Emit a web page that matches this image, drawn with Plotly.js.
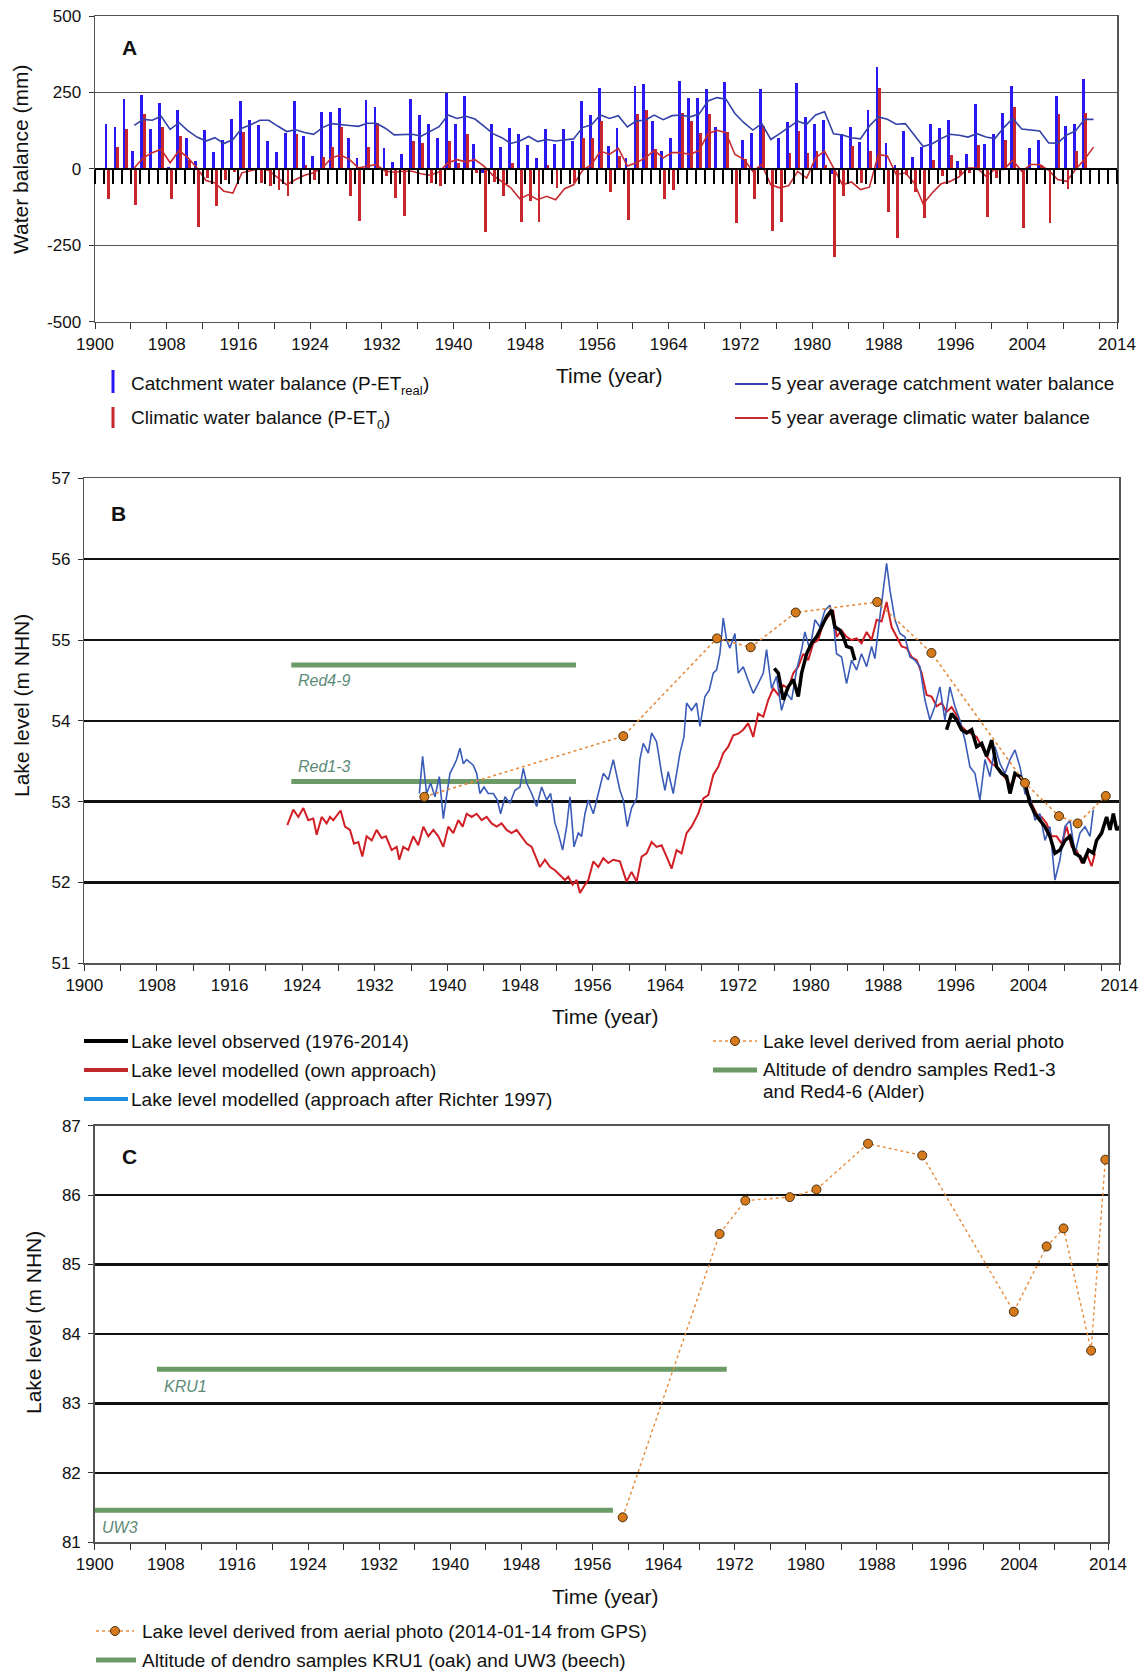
<!DOCTYPE html>
<html><head><meta charset="utf-8">
<script src="https://cdn.plot.ly/plotly-3.0.1.min.js"></script>
<style>html,body{margin:0;padding:0;background:#fff}#chart{width:1146px;height:1673px}</style>
</head><body><div id="chart"></div>
<script>
// ---------------- DATA ----------------
// Panel A: annual water balance (mm)
const balanceYears = [];
for (let y = 1901; y <= 2011; y++) balanceYears.push(y);
const catchmentBalance = [146,137,228,58,240,129,214,5,192,100,
 25,126,56,94,162,222,159,144,91,56,
 118,222,107,43,187,187,200,101,36,225,
 202,68,23,47,227,175,146,100,247,146,
 238,80,-12,146,71,135,115,78,36,130,
 80,130,91,222,176,266,76,133,36,271,
 279,155,58,100,286,233,233,262,137,284,
 0,96,118,260,0,102,153,282,170,148,
 161,-18,113,137,89,192,334,84,12,124,
 38,73,148,133,159,25,49,212,80,113,
 184,271,0,69,93,0,239,139,148,294,null];
const climaticBalance = [-98,71,132,-117,179,-5,137,-98,107,30,
 -189,-30,-122,-35,-10,121,-5,-45,-57,-70,
 -90,114,12,-38,40,70,137,-90,-171,72,
 150,-25,-95,-154,92,85,-45,-57,90,20,
 115,-15,-205,-43,-90,19,-174,-106,-174,11,
 -62,-5,-46,102,102,155,-77,41,-167,179,
 192,64,-99,-70,183,155,118,179,-5,122,
 -178,31,-98,140,-202,-174,53,124,53,60,
 12,-287,-90,76,-46,58,266,-141,-227,-19,
 -77,-161,30,-24,45,-19,-13,78,-156,-30,
 96,202,-194,-5,14,-178,178,-66,58,182,0];
const avgYears = [];
for (let y = 1904; y <= 2011; y++) avgYears.push(y);
const catchmentAvg5 = [142,162,159,172,129,151,124,104,91,102,
 83,96,133,144,159,159,140,122,128,119,
 113,135,148,146,142,139,149,149,133,111,
 113,113,107,122,138,176,165,172,163,140,
 115,102,83,91,106,89,96,91,95,98,
 135,144,176,165,174,137,157,159,176,161,
 174,176,170,179,222,233,228,181,151,127,
 148,96,115,135,156,146,176,187,115,111,
 102,98,140,170,162,146,148,111,73,82,
 99,113,110,104,115,104,99,135,165,130,
 128,124,85,84,111,124,162,162];
const climaticAvg5 = [3,36,53,64,20,60,36,3,-38,-46,
 -73,-79,-13,-5,1,-5,-30,-52,-35,-21,
 -13,3,36,45,31,3,9,14,-8,-11,
 -8,-8,-16,-21,-10,20,30,23,30,9,
 -21,-41,-62,-98,-84,-101,-90,-101,-65,-52,
 -5,14,58,47,67,9,20,36,60,36,
 53,53,47,60,115,126,118,47,31,-8,
 14,-52,-62,-55,-8,-30,36,58,3,-52,
 -43,-68,-60,47,42,-19,-13,-46,-115,-79,
 -49,-41,-26,3,3,-24,-2,-2,28,-8,
 14,14,-5,-35,-41,-2,31,71];
const balanceTicks = [-500, -250, 0, 250, 500];
const balanceTickText = ['-500', '-250', '0', '250', '500'];

// Panel B: lake level (m NHN) as [year, level]
const levelModelOwn = [[1922.36,52.71],[1923.02,52.90],[1923.57,52.81],[1924.12,52.92],[1924.67,52.77],[1925.22,52.79],[1925.59,52.59],[1926.14,52.81],[1926.69,52.73],[1927.06,52.81],[1927.42,52.77],[1927.79,52.83],[1928.23,52.89],[1928.71,52.69],[1929.26,52.65],[1929.7,52.48],[1930.18,52.50],[1930.62,52.32],[1931.09,52.57],[1931.65,52.52],[1932.2,52.65],[1932.75,52.55],[1933.22,52.57],[1933.85,52.40],[1934.4,52.44],[1934.69,52.28],[1935.13,52.44],[1935.68,52.40],[1936.23,52.57],[1936.78,52.46],[1937.34,52.69],[1937.89,52.57],[1938.44,52.65],[1938.99,52.57],[1939.54,52.44],[1940.09,52.69],[1940.64,52.61],[1941.19,52.77],[1941.67,52.69],[1942.11,52.85],[1942.66,52.81],[1943.21,52.85],[1943.76,52.77],[1944.31,52.81],[1944.86,52.73],[1945.41,52.69],[1945.96,52.73],[1946.51,52.65],[1947.06,52.61],[1947.61,52.65],[1948.17,52.57],[1948.72,52.48],[1949.27,52.44],[1949.74,52.32],[1950.18,52.19],[1950.73,52.28],[1951.29,52.19],[1951.84,52.15],[1952.39,52.09],[1952.94,52.03],[1953.3,52.07],[1953.78,51.97],[1954.22,52.03],[1954.59,51.87],[1955.14,51.97],[1955.51,52.03],[1956.06,52.26],[1956.61,52.19],[1957.16,52.30],[1957.71,52.24],[1958.26,52.28],
 [1958.99,52.26],[1959.72,52.01],[1960.27,52.13],[1960.83,52.01],[1961.38,52.32],[1961.93,52.36],[1962.48,52.50],[1963.03,52.44],[1963.58,52.46],[1964.13,52.32],[1964.68,52.17],[1965.23,52.40],[1965.78,52.36],[1966.33,52.61],[1966.88,52.69],[1967.62,52.85],[1968.17,53.04],[1968.72,53.08],[1969.27,53.33],[1969.82,53.43],[1970.37,53.60],[1970.92,53.68],[1971.47,53.82],[1972.02,53.84],[1972.57,53.89],[1973.12,53.97],[1973.67,53.80],[1974.22,54.09],[1974.78,54.05],[1975.33,54.26],[1975.88,54.40],[1976.43,54.32],[1976.98,54.44],[1977.53,54.40],[1978.08,54.59],[1978.63,54.67],[1979.18,54.83],[1979.73,54.75],[1980.28,54.96],[1980.83,55.00],[1981.38,55.21],[1981.93,55.29],[1982.48,55.37],[1982.85,55.04],[1983.4,55.12],[1983.95,55.04],[1984.5,55.00],[1985.05,55.02],[1985.6,54.96],[1986.16,55.10],[1986.71,55.00],[1987.26,55.25],[1987.81,55.23],[1988.36,55.47],
 [1988.91,55.16],[1989.47,55.04],[1990.02,54.92],[1990.57,54.90],[1991.12,54.79],[1991.67,54.75],[1992.22,54.59],[1992.77,54.32],[1993.32,54.30],[1993.87,54.18],[1994.42,54.22],[1994.97,54.11],[1995.52,54.17],[1996.07,54.07],[1996.62,53.93],[1997.17,53.87],[1997.73,53.84],[1998.28,53.80],[1998.83,53.68],[1999.38,53.56],[1999.93,53.47],[2000.48,53.43],[2001.03,53.35],[2001.58,53.27],[2002.13,53.19],[2002.68,53.35],[2003.23,53.27],[2003.78,53.10],[2004.33,52.98],[2004.88,52.85],[2005.43,52.81],[2005.99,52.73],[2006.54,52.57],[2007.09,52.57],[2007.64,52.48],[2008.19,52.69],[2008.74,52.44],[2009.29,52.40],[2009.84,52.24],[2010.39,52.36],[2010.94,52.20],[2011.31,52.36]];
const levelModelRichter = [[1936.9,53.10],[1937.26,53.56],[1937.7,53.10],[1938.14,53.23],[1938.62,53.06],[1939.1,53.31],[1939.54,52.79],[1939.91,53.10],[1940.27,53.35],[1940.64,53.43],[1941.01,53.52],[1941.37,53.66],[1941.74,53.47],[1942.11,53.52],[1942.48,53.49],[1942.84,53.45],[1943.21,53.35],[1943.58,53.10],[1944.02,53.18],[1944.49,53.10],[1945.04,53.10],[1945.49,53.02],[1945.85,52.85],[1946.33,53.06],[1946.88,52.98],[1947.43,53.14],[1947.98,53.18],[1948.35,53.41],[1948.72,53.23],[1949.27,53.10],[1949.82,52.94],[1950.37,53.18],[1950.92,53.02],[1951.36,53.10],[1951.84,52.73],[1952.2,52.61],[1952.68,52.40],[1953.12,52.69],[1953.49,53.06],[1953.93,52.44],[1954.41,52.61],[1954.77,52.57],[1955.14,52.85],[1955.51,53.02],[1956.06,52.85],[1956.61,53.10],[1957.16,53.35],[1957.71,53.27],[1958.26,53.52],[1958.99,53.14],[1959.36,53.02],[1959.8,52.69],[1960.27,52.92],[1960.83,53.04],[1961.19,53.52],[1961.56,53.72],[1962.11,53.60],[1962.48,53.85],[1963.03,53.74],[1963.58,53.35],[1963.95,53.14],[1964.31,53.37],[1964.86,53.10],[1965.23,53.35],[1965.6,53.60],[1966.04,53.80],[1966.33,54.22],[1966.88,54.13],[1967.43,54.22],[1967.8,53.93],[1968.35,54.30],[1968.83,54.38],[1969.27,54.59],[1969.64,54.63],[1970.0,54.83],[1970.37,55.27],[1970.74,55.00],[1971.1,54.90],[1971.66,55.08],[1972.02,54.59],[1972.57,54.67],[1973.12,54.50],[1973.67,54.34],[1974.22,54.46],[1974.78,54.59],[1975.14,54.88],[1975.69,54.40],[1976.24,54.55],[1976.79,54.13],[1977.35,54.34],[1977.9,54.26],[1978.45,54.63],[1979.0,54.88],[1979.36,55.10],[1979.91,54.88],[1980.47,55.25],[1981.02,55.16],[1981.57,55.37],[1982.12,55.43],[1982.48,55.25],[1982.85,54.83],[1983.4,54.79],[1983.95,54.46],[1984.5,54.75],[1985.05,54.63],[1985.6,54.83],[1986.16,54.67],[1986.71,54.92],[1987.07,54.77],[1987.44,55.12],[1987.99,55.58],[1988.36,55.95],[1988.73,55.62],[1989.28,55.25],[1989.83,55.08],[1990.38,55.04],[1990.93,54.79],[1991.48,54.75],[1992.03,54.67],[1992.58,54.26],[1993.13,54.01],[1993.68,54.18],[1994.23,54.42],[1994.78,54.01],[1995.33,54.42],[1995.88,54.18],[1996.43,54.01],[1996.99,53.76],[1997.54,53.43],[1998.09,53.35],[1998.64,53.02],[1999.19,53.52],[1999.74,53.31],[2000.3,53.68],[2000.85,53.47],[2001.4,53.35],[2001.95,53.52],[2002.5,53.64],[2003.05,53.43],[2003.6,53.10],[2004.15,53.06],[2004.7,52.77],[2005.25,52.85],[2005.8,52.52],[2006.35,52.69],[2006.9,52.03],[2007.45,52.28],[2008.0,52.69],[2008.56,52.77],[2009.11,52.36],[2009.66,52.61],[2010.21,52.69],[2010.76,52.57],[2011.13,52.90]];
const levelObserved = [[1975.99,54.65],[1976.43,54.59],[1976.98,54.26],[1977.53,54.42],[1978.08,54.51],[1978.63,54.30],[1979.0,54.59],[1979.55,54.83],[1980.1,54.96],[1980.65,55.04],[1981.2,55.16],[1981.75,55.29],[1982.3,55.37],[1982.67,55.16],[1983.22,55.12],[1983.59,55.04],[1983.95,54.92],[1984.5,54.90],[1984.87,54.75],
 [1990.0,null],
 [1994.97,53.89],[1995.52,54.09],[1996.07,54.01],[1996.62,53.89],[1997.17,53.85],[1997.73,53.89],[1998.28,53.68],[1998.83,53.72],[1999.38,53.56],[1999.93,53.76],[2000.48,53.43],[2001.03,53.35],[2001.58,53.31],[2001.95,53.10],[2002.5,53.35],[2003.05,53.31],[2003.6,53.23],[2004.15,52.98],[2004.7,52.85],[2005.25,52.77],[2005.8,52.69],[2006.35,52.57],[2006.9,52.36],[2007.45,52.40],[2008.0,52.52],[2008.56,52.57],[2009.11,52.36],[2009.66,52.32],[2010.02,52.24],[2010.58,52.40],[2011.13,52.36],[2011.49,52.52],[2012.04,52.61],[2012.59,52.81],[2012.96,52.65],[2013.33,52.85],[2013.7,52.65],[2014.06,52.69]];
const aerialB = [[1937.45,53.06],[1959.36,53.81],[1969.68,55.02],[1973.4,54.91],[1978.35,55.34],[1987.33,55.47],[1993.3,54.84],[2003.6,53.23],[2007.35,52.82],[2009.4,52.73],[2012.5,53.07]];
const dendroB = [{name:'Red4-9', from:1922.8, to:1954.15, level:54.69},
                 {name:'Red1-3', from:1922.8, to:1954.15, level:53.25}];

// Panel C
const aerialC = [[1959.4,81.36],[1970.3,85.44],[1973.2,85.92],[1978.2,85.97],[1981.2,86.08],[1987.0,86.74],[1993.1,86.57],[2003.4,84.32],[2007.1,85.26],[2009.0,85.52],[2012.1,83.76],[2013.7,86.51]];
const dendroC = [{name:'KRU1', from:1907.0, to:1971.1, level:83.49},
                 {name:'UW3', from:1900.0, to:1958.3, level:81.46}];

// Axis ticks: labelled years and unlabelled 4-year ticks
const labelYears = [1900,1908,1916,1924,1932,1940,1948,1956,1964,1972,1980,1988,1996,2004,2014];
const minorYears = [1904,1912,1920,1928,1936,1944,1952,1960,1968,1976,1984,1992,2000,2008,2012];

// ---------------- STYLE / LAYOUT ----------------
const W = 1146, H = 1673;
const px = x => x / W, py = y => 1 - y / H;
const FONT = 'Liberation Sans, Arial, sans-serif';
const C_BLUEBAR = '#2a18f2', C_REDBAR = '#c9252c';
const C_BLUEAVG = '#3340a8', C_REDAVG = '#c62a2f';
const C_RED = '#d11f26', C_BLUE = '#3a5cb8', C_ORANGE = '#d67a1c', C_DOT = '#e58b3c';
const C_GREEN = '#6b9a66', C_GTEXT = '#5d8a78';

const traces = [];
// Panel A bars
traces.push({type:'bar', x: balanceYears.map(y => y + 0.23), y: catchmentBalance, width: 0.32,
  marker:{color:C_BLUEBAR}, xaxis:'x', yaxis:'y', name:'Catchment water balance', hoverinfo:'skip'});
traces.push({type:'bar', x: balanceYears.map(y => y + 0.53), y: climaticBalance, width: 0.32,
  marker:{color:C_REDBAR}, xaxis:'x', yaxis:'y', name:'Climatic water balance', hoverinfo:'skip'});
traces.push({type:'scatter', mode:'lines', x: avgYears.map(y => y + 0.38), y: catchmentAvg5,
  line:{color:C_BLUEAVG, width:1.6}, xaxis:'x', yaxis:'y', name:'5 year average catchment'});
traces.push({type:'scatter', mode:'lines', x: avgYears.map(y => y + 0.38), y: climaticAvg5,
  line:{color:C_REDAVG, width:1.6}, xaxis:'x4', yaxis:'y', name:'5 year average climatic'});

// Panel B
dendroB.forEach(d => traces.push({type:'scatter', mode:'lines', x:[d.from, d.to], y:[d.level, d.level],
  line:{color:C_GREEN, width:5}, xaxis:'x2', yaxis:'y2', name:d.name}));
traces.push({type:'scatter', mode:'lines', x: levelModelOwn.map(p => p[0]), y: levelModelOwn.map(p => p[1]),
  line:{color:C_RED, width:2}, xaxis:'x2', yaxis:'y2', name:'own approach'});
traces.push({type:'scatter', mode:'lines', x: levelModelRichter.map(p => p[0]), y: levelModelRichter.map(p => p[1]),
  line:{color:C_BLUE, width:1.6}, xaxis:'x2', yaxis:'y2', name:'Richter 1997'});
traces.push({type:'scatter', mode:'lines', x: levelObserved.map(p => p[0]), y: levelObserved.map(p => p[1]),
  line:{color:'#000', width:3.5}, connectgaps:false, xaxis:'x2', yaxis:'y2', name:'observed'});
traces.push({type:'scatter', mode:'lines+markers', x: aerialB.map(p => p[0]), y: aerialB.map(p => p[1]),
  line:{color:C_DOT, width:1.6, dash:'dot'}, marker:{color:C_ORANGE, size:9, line:{color:'#4a3010', width:1}},
  xaxis:'x2', yaxis:'y2', name:'aerial photo'});

// Panel C
dendroC.forEach(d => traces.push({type:'scatter', mode:'lines', x:[d.from, d.to], y:[d.level, d.level],
  line:{color:C_GREEN, width:5}, xaxis:'x3', yaxis:'y3', name:d.name}));
traces.push({type:'scatter', mode:'lines+markers', x: aerialC.map(p => p[0]), y: aerialC.map(p => p[1]),
  line:{color:C_DOT, width:1.4, dash:'dot'}, marker:{color:C_ORANGE, size:9, line:{color:'#4a3010', width:1}},
  xaxis:'x3', yaxis:'y3', name:'aerial photo C'});

const tickFont = {family:FONT, size:17, color:'#111'};
function xAxis(domain, anchor) {
  return {domain, anchor, range:[1900, 2014], tickmode:'array', tickvals:labelYears,
    ticks:'outside', ticklen:6, tickcolor:'#333', tickwidth:1,
    minor:{tickmode:'array', tickvals:minorYears, ticks:'outside', ticklen:6, tickcolor:'#333', tickwidth:1, showgrid:false},
    showline:true, mirror:true, linecolor:'#555', linewidth:1.5,
    showgrid:false, zeroline:false, tickfont:tickFont, fixedrange:true};
}
function yAxis(domain, anchor, range, tickvals, ticktext, grid) {
  const ax = {domain, anchor, range, tickmode:'array', tickvals, ticks:'outside', ticklen:5, tickcolor:'#333',
    showline:true, mirror:true, linecolor:'#555', linewidth:1.5, showgrid:true, gridcolor:grid.color, gridwidth:grid.width,
    zeroline:false, tickfont:tickFont, ticklabelstandoff:4, fixedrange:true};
  if (ticktext) ax.ticktext = ticktext;
  return ax;
}

const yA0 = (16 + 321.7) / 2; // pixel row of 0 mm in panel A
const layout = {
  width: W, height: H, margin:{l:0, r:0, t:0, b:0}, showlegend:false,
  paper_bgcolor:'#fff', plot_bgcolor:'rgba(0,0,0,0)', barmode:'overlay', bargap:0,
  font:{family:FONT, color:'#111'},
  xaxis: xAxis([px(95), px(1117)], 'y'),
  yaxis: yAxis([py(321.7), py(16)], 'x', [-500, 500], balanceTicks, balanceTickText, {color:'#555', width:1}),
  xaxis4: {overlaying:'x', anchor:'free', position: py(yA0), range:[1900, 2014], side:'bottom',
    showline:true, linecolor:'#000', linewidth:2, ticks:'outside', ticklen:14, tickwidth:2, tickcolor:'#000',
    tickmode:'linear', tick0:1900, dtick:1, showticklabels:false, showgrid:false, zeroline:false, fixedrange:true},
  xaxis2: xAxis([px(84.3), px(1119.4)], 'y2'),
  yaxis2: yAxis([py(963.2), py(478.4)], 'x2', [51, 57], [51, 52, 53, 54, 55, 56, 57], null, {color:'#111', width:2.2}),
  xaxis3: xAxis([px(94.7), px(1108)], 'y3'),
  yaxis3: yAxis([py(1542.3), py(1125.6)], 'x3', [81, 87], [81, 82, 83, 84, 85, 86, 87], null, {color:'#111', width:2.2}),
  annotations: [], shapes: []
};

const ann = layout.annotations, shp = layout.shapes;
function textAt(x, y, text, opts) {
  ann.push(Object.assign({xref:'paper', yref:'paper', x:px(x), y:py(y), text, showarrow:false,
    xanchor:'left', yanchor:'middle', font:{family:FONT, size:19, color:'#111'}}, opts || {}));
}
// width of a string in the legend font, used to place subscripts next to their base text
const measureCtx = document.createElement('canvas').getContext('2d');
function textWidth(str, size) { measureCtx.font = size + 'px "Liberation Sans", Arial, sans-serif'; return measureCtx.measureText(str).width; }
function textWithSub(x, y, before, sub, after) {
  textAt(x, y, before);
  const w1 = textWidth(before, 19);
  textAt(x + w1, y + 6, sub, {font:{family:FONT, size:13, color:'#111'}});
  const w2 = textWidth(sub, 13);
  textAt(x + w1 + w2, y, after);
}
// Panel labels
textAt(129, 47, '<b>A</b>', {xanchor:'center', font:{family:FONT, size:21, color:'#111'}});
textAt(118, 513, '<b>B</b>', {xanchor:'center', font:{family:FONT, size:21, color:'#111'}});
textAt(129, 1156, '<b>C</b>', {xanchor:'center', font:{family:FONT, size:21, color:'#111'}});
// Axis titles
textAt(21, 160, 'Water balance (mm)', {xanchor:'center', textangle:-90, font:{family:FONT, size:21, color:'#111'}});
textAt(21, 706, 'Lake level (m NHN)', {xanchor:'center', textangle:-90, font:{family:FONT, size:21, color:'#111'}});
textAt(33, 1323, 'Lake level (m NHN)', {xanchor:'center', textangle:-90, font:{family:FONT, size:21, color:'#111'}});
textAt(609, 375, 'Time (year)', {xanchor:'center', font:{family:FONT, size:21, color:'#111'}});
textAt(605, 1016, 'Time (year)', {xanchor:'center', font:{family:FONT, size:21, color:'#111'}});
textAt(605, 1596, 'Time (year)', {xanchor:'center', font:{family:FONT, size:21, color:'#111'}});

// Legend glyph helpers
function rectPx(x0, y0, x1, y1, color) {
  shp.push({type:'rect', xref:'paper', yref:'paper', x0:px(x0), x1:px(x1), y0:py(y1), y1:py(y0), fillcolor:color, line:{width:0}});
}
function linePx(x0, x1, y, color, width, dash) {
  shp.push({type:'line', xref:'paper', yref:'paper', x0:px(x0), x1:px(x1), y0:py(y), y1:py(y), line:{color, width, dash:dash || 'solid'}});
}
function dotPx(x, y, r) {
  shp.push({type:'circle', xref:'paper', yref:'paper', x0:px(x - r), x1:px(x + r), y0:py(y + r), y1:py(y - r),
    fillcolor:C_ORANGE, line:{color:'#4a3010', width:1}});
}
// Legend A
rectPx(111.5, 370, 114.5, 393, C_BLUEBAR);
textWithSub(129, 384, 'Catchment water balance (P-ET', 'real', ')');
rectPx(111.5, 407, 114.5, 428, C_REDBAR);
textWithSub(129, 418, 'Climatic water balance (P-ET', '0', ')');
linePx(735, 768, 384, C_BLUEAVG, 2);
textAt(769, 384, '5 year average catchment water balance');
linePx(735, 768, 418, C_REDAVG, 2);
textAt(769, 418, '5 year average climatic water balance');

// Legend B
linePx(84, 128, 1041, '#000', 4);
textAt(129, 1041, 'Lake level observed (1976-2014)');
linePx(84, 128, 1070, '#c0282d', 4);
textAt(129, 1070, 'Lake level modelled (own approach)');
linePx(84, 128, 1099, '#1f8fe0', 4);
textAt(129, 1099, 'Lake level modelled (approach after Richter 1997)');
linePx(713, 757, 1041, C_DOT, 1.6, 'dot');
dotPx(735, 1041, 4.5);
textAt(761, 1041, 'Lake level derived from aerial photo');
linePx(713, 757, 1070, C_GREEN, 5);
textAt(761, 1069, 'Altitude of dendro samples Red1-3');
textAt(761, 1091, 'and Red4-6 (Alder)');

// Legend C
linePx(96, 134, 1631, C_DOT, 1.6, 'dot');
dotPx(115, 1631, 4.5);
textAt(140, 1631, 'Lake level derived from aerial photo (2014-01-14 from GPS)');
linePx(96, 136, 1660, C_GREEN, 5);
textAt(140, 1660, 'Altitude of dendro samples KRU1 (oak) and UW3 (beech)');

// Dendro labels (data coords)
const gFont = {family:FONT, size:16, color:C_GTEXT};
ann.push({xref:'x2', yref:'y2', x:1923.3, y:54.5, text:'<i>Red4-9</i>', showarrow:false, xanchor:'left', yanchor:'middle', font:gFont});
ann.push({xref:'x2', yref:'y2', x:1923.3, y:53.43, text:'<i>Red1-3</i>', showarrow:false, xanchor:'left', yanchor:'middle', font:gFont});
ann.push({xref:'x3', yref:'y3', x:1907.6, y:83.24, text:'<i>KRU1</i>', showarrow:false, xanchor:'left', yanchor:'middle', font:gFont});
ann.push({xref:'x3', yref:'y3', x:1900.6, y:81.22, text:'<i>UW3</i>', showarrow:false, xanchor:'left', yanchor:'middle', font:gFont});

Plotly.newPlot('chart', traces, layout, {displayModeBar:false, staticPlot:true});
</script>
</body></html>
